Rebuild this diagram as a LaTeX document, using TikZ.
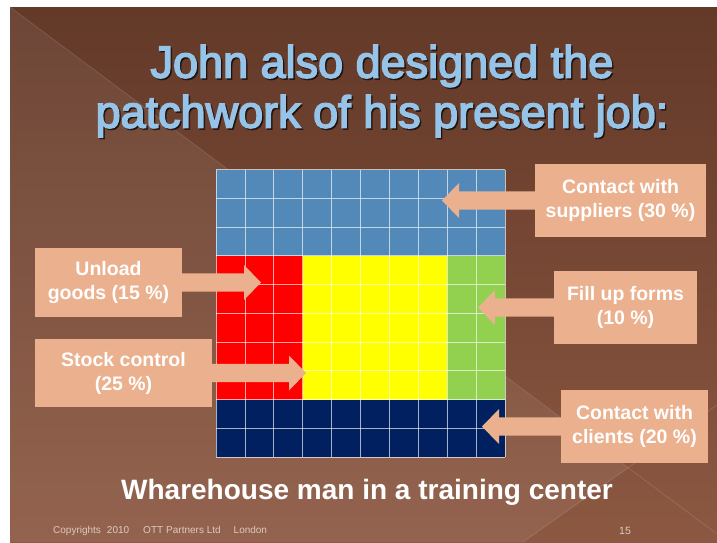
\documentclass[tikz,border=0pt]{standalone}
\usepackage{fontspec}
\setmainfont{Liberation Sans}
\newfontfamily\titlefont[FakeBold=3.5]{Liberation Sans}
\usetikzlibrary{calc}
\definecolor{bgtop}{RGB}{99,57,40}
\definecolor{bgbot}{RGB}{140,88,66}
\definecolor{peach}{RGB}{235,176,142}
\definecolor{gblue}{RGB}{82,137,185}
\definecolor{gred}{RGB}{255,0,0}
\definecolor{gyellow}{RGB}{255,255,0}
\definecolor{ggreen}{RGB}{146,208,80}
\definecolor{gnavy}{RGB}{0,32,96}
\definecolor{titleblue}{RGB}{150,196,232}
\definecolor{footcol}{RGB}{222,202,192}
\newcommand{\peacharrow}[3]{%
  \fill[peach] ($(#1.center|-#2)+(0,-9.2)$) -- ($(#2)+(#3,-9.2)$) -- ($(#2)+(#3,-17.5)$) -- (#2)
    -- ($(#2)+(#3,17.5)$) -- ($(#2)+(#3,9.2)$) -- ($(#1.center|-#2)+(0,9.2)$) -- cycle;}
\begin{document}
\begin{tikzpicture}[x=1pt,y=-1pt,
  callout/.style={fill=peach, inner sep=0pt, text=white, align=center,
    font=\fontsize{19.5}{24}\selectfont\bfseries},
  gridline/.style={draw=white, draw opacity=0.65, line width=0.8pt},
  titletext/.style={align=center, font=\titlefont\fontsize{45}{50}\selectfont},
]
\useasboundingbox (0,0) rectangle (717,542);
% background
\fill[white] (0,0) rectangle (717,542);
\shade[top color=bgtop, bottom color=bgbot] (10,7) rectangle (717,542);
\fill[white, opacity=0.07] (10,7) -- (628,468) -- (523,542) -- (10,542) -- cycle;
\draw[white, opacity=0.12, line width=0.8pt] (10,7) -- (717,534);
\draw[white, opacity=0.12, line width=0.8pt] (523,542) -- (717,405);

% title
\node[titletext, text=black, opacity=0.55] (titleshadow) at (383.5,92.5) {John also designed the\\patchwork of his present job:};
\node[titletext, text=titleblue] (title) at (382,91) {John also designed the\\patchwork of his present job:};

% patchwork grid
\fill[gblue]   (216,169.5) rectangle (505,255.75);
\fill[gred]    (216,255.75) rectangle (302.7,399.5);
\fill[gyellow] (302.7,255.75) rectangle (447.2,399.5);
\fill[ggreen]  (447.2,255.75) rectangle (505,399.5);
\fill[gnavy]   (216,399.5) rectangle (505,457);
\foreach \i in {0,...,10} {
  \draw[gridline] (216+\i*28.9,169.5) -- (216+\i*28.9,457);
  \draw[gridline] (216,169.5+\i*28.75) -- (505,169.5+\i*28.75);
}

% callout boxes
\node[callout, minimum width=147pt, minimum height=69pt] (unload) at (108.5,282.5) {};
\node[callout, minimum width=177pt, minimum height=68pt] (stock) at (123.5,373) {};
\node[callout, minimum width=171pt, minimum height=73pt] (supp) at (620.5,200.5) {};
\node[callout, minimum width=143pt, minimum height=73pt] (forms) at (625.5,307.5) {};
\node[callout, minimum width=147pt, minimum height=73pt] (clients) at (634.5,426.5) {};

\coordinate (utip) at (261,282.5);
\coordinate (stip) at (306,373);
\coordinate (ptip) at (442,200.5);
\coordinate (ftip) at (478,307.5);
\coordinate (ctip) at (482,426.5);

\peacharrow{unload}{utip}{-17}
\peacharrow{stock}{stip}{-17}
\peacharrow{supp}{ptip}{17}
\peacharrow{forms}{ftip}{17}
\peacharrow{clients}{ctip}{17}

\node[callout, fill=none] at (unload) {Unload\\goods (15 \%)};
\node[callout, fill=none] at (stock) {Stock control\\(25 \%)};
\node[callout, fill=none] at (supp) {Contact with\\suppliers (30 \%)};
\node[callout, fill=none] at (forms) {Fill up forms\\(10 \%)};
\node[callout, fill=none] at (clients) {Contact with\\clients (20 \%)};

% subtitle
\node[text=white, font=\fontsize{28}{32}\selectfont\bfseries] (subtitle) at (367,492) {Wharehouse man in a training center};

% footer
\node[anchor=west, text=footcol, font=\fontsize{10}{12}\selectfont, inner sep=0pt] (footer) at (53,531)
  {Copyrights\hspace{6pt}2010\hspace{14pt}OTT\hspace{3pt}Partners Ltd\hspace{13pt}London};
\node[text=footcol, font=\fontsize{10.5}{12}\selectfont, inner sep=0pt] (pagenum) at (625,531) {15};
\end{tikzpicture}
\end{document}
